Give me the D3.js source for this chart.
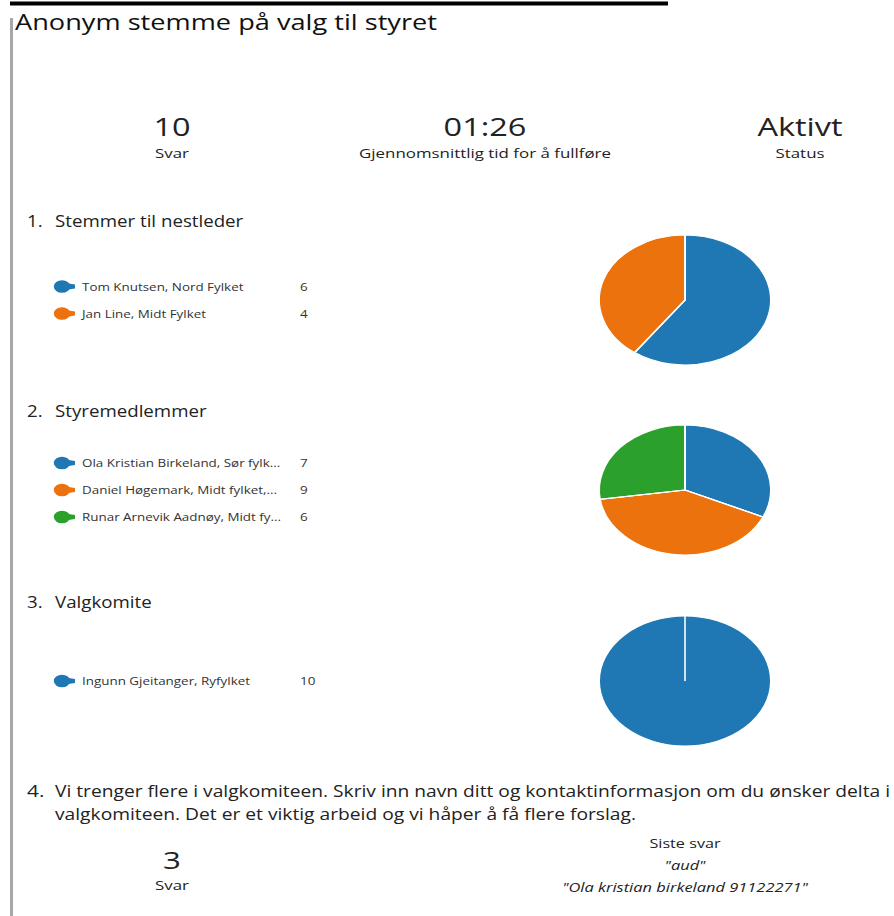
<!DOCTYPE html>
<html>
<head>
<meta charset="utf-8">
<script src="https://cdn.jsdelivr.net/npm/d3@7"></script>
<style>
body{margin:0;background:#fff;}
text{font-family:"Open Sans","Noto Sans",sans-serif;}
</style>
</head>
<body>
<div id="chart"></div>
<script>
// survey summary
var stats = ["10", "01:26", "Aktivt"];
var statLabels = ["Svar", "Gjennomsnittlig tid for å fullføre", "Status"];

var q1Labels = ["Tom Knutsen, Nord Fylket", "Jan Line, Midt Fylket"];
var q1Values = [6, 4];
var q2Labels = ["Ola Kristian Birkeland, Sør fylk...", "Daniel Høgemark, Midt fylket,...", "Runar Arnevik Aadnøy, Midt fy..."];
var q2Values = [7, 9, 6];
var q3Labels = ["Ingunn Gjeitanger, Ryfylket"];
var q3Values = [10];
var q4Answers = ["\"aud\"", "\"Ola kristian birkeland 91122271\""];
var q4Count = "3";

var colors = ["#1f78b4", "#eb720c", "#2ca02c"];

var W = 894, H = 916, sx = 1.3;

var svg = d3.select("#chart").append("svg")
  .attr("width", W).attr("height", H);

// frame bits
svg.append("rect").attr("x", 10).attr("y", 1.5).attr("width", 658).attr("height", 4).attr("fill", "#000");
svg.append("rect").attr("x", 10).attr("y", 18).attr("width", 3).attr("height", H - 18).attr("fill", "#a8a8a8");

function txt(x, y, s, o) {
  o = o || {};
  var t = svg.append("text")
    .attr("font-size", o.size || 12)
    .attr("fill", o.fill || "#222")
    .attr("text-anchor", o.anchor || "start")
    .style("font-style", o.italic ? "italic" : "normal")
    .text(s);
  if (o.w) {
    t.attr("x", x).attr("y", y).attr("textLength", o.w).attr("lengthAdjust", "spacingAndGlyphs");
  } else {
    t.attr("transform", "translate(" + x + "," + y + ") scale(" + (o.sx || sx) + ",1)");
  }
  return t;
}

txt(15, 30, "Anonym stemme på valg til styret", {size: 22, w: 422, fill: "#111"});

// stats row
var statX = d3.scalePoint().domain(d3.range(stats.length)).range([172, 800]);
stats.forEach(function(s, i) {
  var cx = i == 1 ? 485 : statX(i);
  txt(cx, 136, s, {size: 25, anchor: "middle"});
  txt(cx, 158, statLabels[i], {size: 13, anchor: "middle"});
});

var pie = d3.pie().sort(null).value(function(d) { return d; });
var arc = d3.arc().innerRadius(0).outerRadius(65);

function question(num, title, labels, values, top) {
  txt(27, top, num + ".", {size: 17, sx: 1.1});
  txt(55, top, title, {size: 17, sx: 1.1});

  var cy = top + 73;
  // legend rows are centred on the pie
  var rowY = d3.scaleLinear().domain([0, 1]).range([cy - (labels.length - 1) * 13.5, cy - (labels.length - 1) * 13.5 + 27]);
  labels.forEach(function(l, i) {
    var ry = rowY(i);
    var g = svg.append("g").attr("transform", "translate(62," + ry + ") scale(" + sx + ",1)");
    g.append("circle").attr("r", 6.3).attr("fill", colors[i]);
    g.append("path").attr("d", "M0,-4L10,-2L10,2L0,4Z").attr("fill", colors[i]);
    txt(82, ry + 4, l, {size: 11, fill: "#333", sx: 1.22});
    txt(300, ry + 4, values[i], {size: 11, fill: "#333", sx: 1.22});
  });

  var pg = svg.append("g").attr("transform", "translate(685," + cy + ") scale(1.32,1)");
  var arcs = pie(values);
  pg.selectAll("path.slice").data(arcs).enter().append("path")
    .attr("class", "slice")
    .attr("d", arc)
    .attr("fill", function(d, i) { return colors[i]; })
    .attr("stroke", "#fff").attr("stroke-width", 1.2);
  // separator from centre at each slice start
  pg.selectAll("line.sep").data(arcs).enter().append("line")
    .attr("class", "sep")
    .attr("x1", 0).attr("y1", 0)
    .attr("x2", function(d) { return 65 * Math.sin(d.startAngle); })
    .attr("y2", function(d) { return -65 * Math.cos(d.startAngle); })
    .attr("stroke", "#fff").attr("stroke-width", 1.2);
}

question(1, "Stemmer til nestleder", q1Labels, q1Values, 227);
question(2, "Styremedlemmer", q2Labels, q2Values, 417);
question(3, "Valgkomite", q3Labels, q3Values, 608);

// question 4, free text
txt(27, 797, "4.", {size: 16});
txt(55, 797, "Vi trenger flere i valgkomiteen. Skriv inn navn ditt og kontaktinformasjon om du ønsker delta i", {size: 16, w: 835});
txt(55, 820, "valgkomiteen. Det er et viktig arbeid og vi håper å få flere forslag.", {size: 16, w: 581});
txt(172, 869, q4Count, {size: 24, anchor: "middle"});
txt(172, 890, "Svar", {size: 13, anchor: "middle"});
txt(685, 848, "Siste svar", {size: 12, anchor: "middle", sx: 1.35});
q4Answers.forEach(function(a, i) {
  txt(685, 870 + i * 22, a, {size: 12, anchor: "middle", italic: true, sx: 1.37});
});
</script>
</body>
</html>
